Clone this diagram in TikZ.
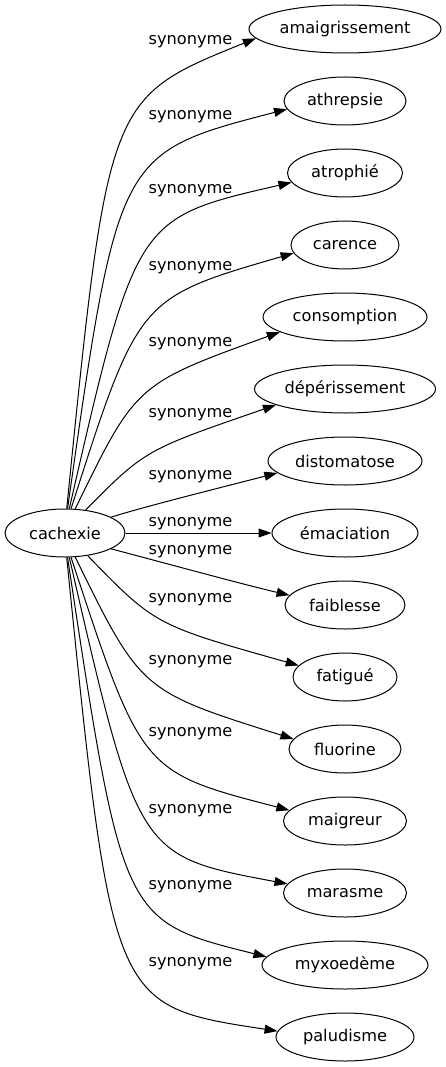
\documentclass[tikz,border=0pt]{standalone}
\usepackage{fontspec}
\setmainfont{DejaVu Sans}
\usetikzlibrary{arrows.meta,shapes.geometric}
\begin{document}
\begin{tikzpicture}[x=1pt,y=-1pt,
  word/.style={draw, ellipse, line width=1pt, inner sep=0pt, minimum height=48pt, font=\fontsize{16.2}{19}\selectfont},
  lbl/.style={anchor=base, inner sep=0pt, font=\fontsize{16.2}{19}\selectfont},
  syn/.style={line width=1pt, -{Triangle[length=13pt,width=9pt]}}]
\useasboundingbox (0,0) rectangle (446,1067);
\node[word, minimum width=120pt] (c) at (65,533) {cachexie};
\node[word, minimum width=192pt] (t1) at (345,29) {amaigrissement};
\node[word, minimum width=122pt] (t2) at (345,101) {athrepsie};
\node[word, minimum width=115pt] (t3) at (345,173) {atrophié};
\node[word, minimum width=108pt] (t4) at (345,245) {carence};
\node[word, minimum width=164pt] (t5) at (345,317) {consomption};
\node[word, minimum width=181pt] (t6) at (345,389) {dépérissement};
\node[word, minimum width=154pt] (t7) at (345,461) {distomatose};
\node[word, minimum width=146pt] (t8) at (345,533) {émaciation};
\node[word, minimum width=120pt] (t9) at (345,605) {faiblesse};
\node[word, minimum width=104pt] (t10) at (345,677) {fatigué};
\node[word, minimum width=112pt] (t11) at (345,749) {fluorine};
\node[word, minimum width=123pt] (t12) at (345,821) {maigreur};
\node[word, minimum width=123pt] (t13) at (345,893) {marasme};
\node[word, minimum width=166pt] (t14) at (345,965) {myxoedème};
\node[word, minimum width=138pt] (t15) at (345,1037) {paludisme};
\node[lbl] (l1) at (190.5,45) {synonyme};
\node[lbl] (l2) at (190.5,119.5) {synonyme};
\node[lbl] (l3) at (190.5,193.5) {synonyme};
\node[lbl] (l4) at (190.5,270.5) {synonyme};
\node[lbl] (l5) at (190.5,346) {synonyme};
\node[lbl] (l6) at (190.5,417) {synonyme};
\node[lbl] (l7) at (190.5,479.5) {synonyme};
\node[lbl] (l8) at (190.5,526.5) {synonyme};
\node[lbl] (l9) at (190.5,554) {synonyme};
\node[lbl] (l10) at (190.5,602) {synonyme};
\node[lbl] (l11) at (190.5,664) {synonyme};
\node[lbl] (l12) at (190.5,736.5) {synonyme};
\node[lbl] (l13) at (190.5,813) {synonyme};
\node[lbl] (l14) at (190.5,889) {synonyme};
\node[lbl] (l15) at (190.5,966) {synonyme};
\draw[syn] (c.86) .. controls (108,98) .. (t1.186);
\draw[syn] (c.84) .. controls (118,153) .. (t2.188);
\draw[syn] (c.80) .. controls (136,218) .. (t3.190);
\draw[syn] (c.76) .. controls (138.5,298) .. (t4.189);
\draw[syn] (c.67) .. controls (136,384) .. (t5.193);
\draw[syn] (c.48) .. controls (145,450) .. (t6.193);
\draw[syn] (c.19.5) .. controls (150,505) and (235,484) .. (t7.190);
\draw[syn] (c.east) -- (t8.west);
\draw[syn] (c.-19.5) .. controls (150,559) and (245,585) .. (t9.170);
\draw[syn] (c.-45) .. controls (155,625) .. (t10.166);
\draw[syn] (c.-67) .. controls (141,691) .. (t11.169);
\draw[syn] (c.-76) .. controls (141.6,772) .. (t12.169);
\draw[syn] (c.-80) .. controls (138,856) .. (t13.171);
\draw[syn] (c.-84) .. controls (122.5,921) .. (t14.174);
\draw[syn] (c.-86) .. controls (112,1006) .. (t15.175);
\end{tikzpicture}
\end{document}
